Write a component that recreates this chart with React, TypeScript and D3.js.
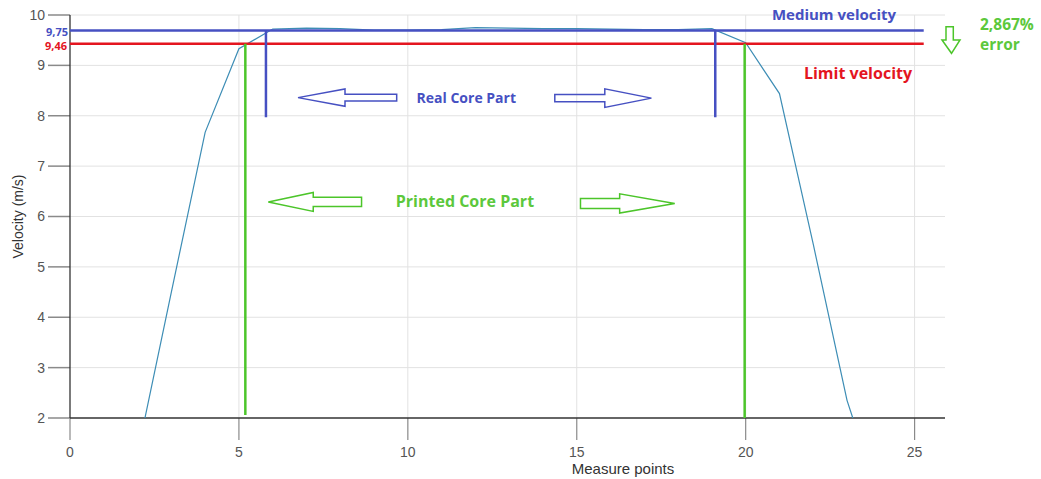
import * as d3 from 'd3';

// measured curve
const measurePoints = [2, 3, 4, 5, 6, 7, 8, 9, 10, 11, 12, 13, 14, 15, 16, 17, 18, 19, 20, 21, 22, 23, 24];
const velocities = [1.3, 4.5, 7.67, 9.33, 9.72, 9.74, 9.73, 9.7, 9.7, 9.71, 9.75, 9.74, 9.73, 9.73, 9.72, 9.71, 9.71, 9.73, 9.45, 8.44, 5.45, 2.35, 0.3];

const xTicks = [0, 5, 10, 15, 20, 25];
const yTicks = [2, 3, 4, 5, 6, 7, 8, 9, 10];

// annotation overlay (drawn by hand on the original figure)
const refLabels = ['9,75', '9,46'];
const refLevels = [9.69, 9.43];
const realCoreBounds = [5.8, 19.1];
const printedCoreBounds = [5.19, 19.97];

const BLUE = '#4650c2';
const RED = '#e4151f';
const GREEN = '#4cc52a';
const GREEN_TXT = '#5cc83c';

const W = 1041;
const H = 479;

const x = d3.scaleLinear().domain([0, 25.9]).range([70, 945]);
const y = d3.scaleLinear().domain([2, 10]).range([418, 15]);

const axisFont = '"Liberation Sans Narrow", "Liberation Sans", Arial, sans-serif';
const annFont = '"Open Sans", "Noto Sans", sans-serif';

// block arrow outline with its tip at tipX
function arrowPath(tipX: number, headX: number, tailX: number, cy: number, headH: number, shaftH: number) {
  const p = d3.path();
  p.moveTo(tipX, cy);
  p.lineTo(headX, cy - headH);
  p.lineTo(headX, cy - shaftH);
  p.lineTo(tailX, cy - shaftH);
  p.lineTo(tailX, cy + shaftH);
  p.lineTo(headX, cy + shaftH);
  p.lineTo(headX, cy + headH);
  p.closePath();
  return p.toString();
}

export default function App() {
  const pts = measurePoints.map((m, i) => [m, velocities[i]] as [number, number]);
  const line = d3.line<[number, number]>().x(d => x(d[0])).y(d => y(d[1]));

  const [x0, x1] = x.range();
  const [yb, yt] = y.range();

  return (
    <div style={{ position: 'absolute', left: 0, top: 0 }}>
      <svg width={W} height={H} style={{ display: 'block', background: '#fff' }}>
        <defs>
          <clipPath id="plot">
            <rect x={x0} y={yt} width={x1 - x0} height={yb - yt} />
          </clipPath>
        </defs>

        {/* grid */}
        {yTicks.slice(1).map(t => (
          <line key={'gy' + t} x1={x0} x2={x1} y1={y(t)} y2={y(t)} stroke="#e2e2e2" strokeWidth={1} />
        ))}
        {xTicks.slice(1).map(t => (
          <line key={'gx' + t} x1={x(t)} x2={x(t)} y1={yt} y2={yb} stroke="#e2e2e2" strokeWidth={1} />
        ))}

        {/* y ticks */}
        {yTicks.map(t => (
          <g key={'ty' + t}>
            <line x1={48} x2={x0} y1={y(t)} y2={y(t)} stroke="#8a8a8a" strokeWidth={1.5} />
            <text x={45} y={y(t)} dy="0.35em" textAnchor="end" fontSize={14} fill="#555" fontFamily={axisFont}>
              {t}
            </text>
          </g>
        ))}
        {/* x ticks */}
        {xTicks.map(t => (
          <g key={'tx' + t}>
            <line x1={x(t)} x2={x(t)} y1={yb} y2={yb + 22} stroke="#8a8a8a" strokeWidth={1.2} />
            <text x={x(t)} y={452} dy="0.35em" textAnchor="middle" fontSize={14} fill="#555" fontFamily={axisFont}>
              {t}
            </text>
          </g>
        ))}

        {/* axes */}
        <line x1={x0} x2={x1} y1={yb} y2={yb} stroke="#333" strokeWidth={1.3} />
        <line x1={x0} x2={x0} y1={yt} y2={yb} stroke="#333" strokeWidth={1.3} />

        <text x={623} y={469} dy="0.35em" textAnchor="middle" fontSize={15} fill="#333" fontFamily={axisFont}>
          Measure points
        </text>
        <text
          transform={`translate(18, ${(yt + yb) / 2}) rotate(-90)`}
          dy="0.35em"
          textAnchor="middle"
          fontSize={14}
          fill="#333"
          fontFamily={axisFont}
        >
          Velocity (m/s)
        </text>

        {/* data curve */}
        <path d={line(pts) || ''} fill="none" stroke="#3d8db5" strokeWidth={1.2} clipPath="url(#plot)" />

        {/* reference lines */}
        <line x1={x0} x2={x(25.27)} y1={y(refLevels[0])} y2={y(refLevels[0])} stroke={BLUE} strokeWidth={2.5} />
        <line x1={x0} x2={x(25.27)} y1={y(refLevels[1])} y2={y(refLevels[1])} stroke={RED} strokeWidth={2.5} />
        <text x={68} y={y(refLevels[0]) + 1.5} dy="0.35em" textAnchor="end" fontSize={11} fontWeight="bold" fill={BLUE} fontFamily={annFont}>
          {refLabels[0]}
        </text>
        <text x={67} y={y(refLevels[1]) + 2} dy="0.35em" textAnchor="end" fontSize={11} fontWeight="bold" fill={RED} fontFamily={annFont}>
          {refLabels[1]}
        </text>

        {/* core part bounds */}
        {realCoreBounds.map(b => (
          <line key={'rc' + b} x1={x(b)} x2={x(b)} y1={y(refLevels[0])} y2={y(7.97)} stroke={BLUE} strokeWidth={2.5} />
        ))}
        {printedCoreBounds.map((b, i) => (
          <line key={'pc' + b} x1={x(b)} x2={x(b)} y1={y(refLevels[1])} y2={y(i === 0 ? 2.06 : 2)} stroke={GREEN} strokeWidth={2.5} />
        ))}

        {/* real core arrows + label */}
        <path d={arrowPath(x(6.75), x(8.14), x(9.67), y(8.36), 8.7, 3.3)} fill="none" stroke={BLUE} strokeWidth={1.5} />
        <path d={arrowPath(x(17.21), x(15.83), x(14.35), y(8.35), 9.3, 3.6)} fill="none" stroke={BLUE} strokeWidth={1.5} />
        <text x={x(11.73)} y={y(8.35)} dy="0.35em" textAnchor="middle" fontSize={14} fontWeight="bold" fill={BLUE} fontFamily={annFont}>
          Real Core Part
        </text>

        {/* printed core arrows + label */}
        <path d={arrowPath(x(5.87), x(7.2), x(8.63), y(6.29), 9.5, 4.7)} fill="none" stroke={GREEN} strokeWidth={1.5} />
        <path d={arrowPath(x(17.9), x(16.27), x(15.11), y(6.26), 9.6, 5)} fill="none" stroke={GREEN} strokeWidth={1.5} />
        <text x={x(11.69)} y={y(6.29)} dy="0.35em" textAnchor="middle" fontSize={16} fontWeight="bold" fill={GREEN_TXT} fontFamily={annFont}>
          Printed Core Part
        </text>

        {/* right side notes */}
        <text x={834} y={15} dy="0.35em" textAnchor="middle" fontSize={15} fontWeight="bold" fill={BLUE} fontFamily={annFont}>
          Medium velocity
        </text>
        <text x={858} y={73} dy="0.35em" textAnchor="middle" fontSize={16} fontWeight="bold" fill={RED} fontFamily={annFont}>
          Limit velocity
        </text>
        <path
          d="M946,26.7 L953.3,26.7 L953.3,40 L960,40 L951.5,53.3 L942,40 L946,40 Z"
          fill="none"
          stroke={GREEN}
          strokeWidth={1.5}
        />
        <text x={980} y={25} dy="0.35em" fontSize={15.5} fontWeight="bold" fill={GREEN_TXT} fontFamily={annFont}>
          2,867%
        </text>
        <text x={980} y={45} dy="0.35em" fontSize={15.5} fontWeight="bold" fill={GREEN_TXT} fontFamily={annFont}>
          error
        </text>
      </svg>
    </div>
  );
}
